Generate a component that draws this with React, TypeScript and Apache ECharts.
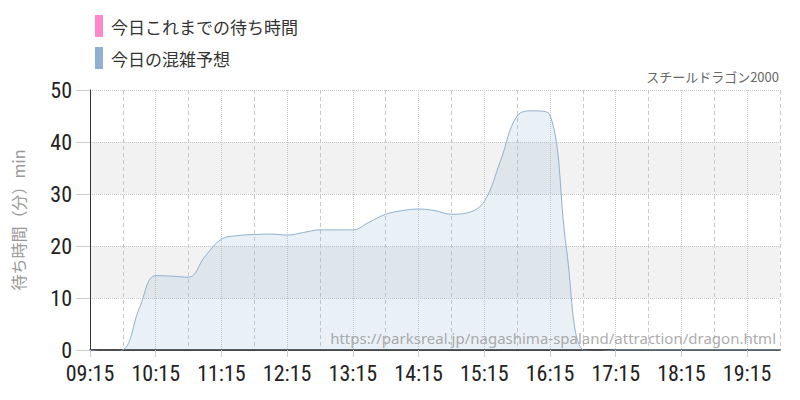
import React, { useEffect, useRef } from "react";
import * as echarts from "echarts";

const times: string[] = [
  "09:15","09:30","09:45","10:00","10:15","10:30","10:45","11:00","11:15","11:30","11:45",
  "12:00","12:15","12:30","12:45","13:00","13:15","13:30","13:45","14:00","14:15","14:30","14:45",
  "15:00","15:15","15:30","15:45","16:00","16:15","16:30","16:45","17:00","17:15","17:30","17:45",
  "18:00","18:15","18:30","18:45","19:00","19:15","19:30","19:45",
];
const forecast: number[] = [
  0, -0.4, 0, 8.0, 14.3, 14.2, 14.0, 18.0, 21.3, 22.0, 22.2,
  22.3, 22.1, 22.6, 23.1, 23.1, 23.1, 24.6, 26.1, 26.8, 27.1, 26.8, 26.1,
  26.4, 28.6, 36.5, 45.0, 46.0, 45.2, 19.5, 0, -0.3, 0, 0, 0,
  0, 0, 0, 0, 0, 0, 0, 0,
];
const actual: number[] = [];
const yTicks = { min: 0, max: 50, interval: 10 };
const seriesNames = ["今日これまでの待ち時間", "今日の混雑予想"];
const titleText = "スチールドラゴン2000";
const watermark = "https://parksreal.jp/nagashima-spaland/attraction/dragon.html";
const yName = "待ち時間（分）min";

const numFont = "'Roboto Condensed', 'Liberation Sans Narrow', 'DejaVu Sans Condensed', 'Open Sans', sans-serif";
const jpFont = "'Noto Sans CJK JP', 'Noto Sans', sans-serif";

export default function App() {
  const ref = useRef<HTMLDivElement>(null);
  useEffect(() => {
    if (!ref.current) return;
    const chart = echarts.init(ref.current, undefined, { renderer: "svg" });
    chart.setOption({
      animation: false,
      legend: {
        orient: "vertical",
        left: 95,
        top: 15,
        padding: 0,
        itemWidth: 8,
        itemHeight: 22,
        itemGap: 10,
        icon: "rect",
        selectedMode: false,
        textStyle: { fontSize: 17, color: "#333", fontFamily: jpFont, padding: [0, 0, 0, 3] },
        data: seriesNames,
      },
      grid: { left: 90, right: 20, top: 90, bottom: 50 },
      xAxis: [
        {
          type: "category",
          data: times,
          boundaryGap: false,
          axisLine: { lineStyle: { color: "#111", width: 1.5 } },
          axisTick: {
            show: true,
            length: 7,
            interval: (i: number) => i % 4 === 0,
            lineStyle: { color: "#ccc" },
          },
          axisLabel: {
            interval: (i: number) => i % 4 === 0,
            fontSize: 22,
            color: "#222",
            fontFamily: numFont,
            fontStyle: "condensed",
            margin: 12,
          },
          splitLine: {
            show: true,
            interval: (i: number) => i % 4 === 0,
            lineStyle: { color: "#c8c8c8", type: "dotted" },
          },
        },
        {
          type: "category",
          data: times,
          boundaryGap: false,
          position: "bottom",
          axisLine: { show: false },
          axisTick: { show: false },
          axisLabel: { show: false },
          splitLine: {
            show: true,
            interval: (i: number) => i % 4 === 2,
            lineStyle: { color: "#c8c8c8", type: [4, 3] },
          },
        },
      ],
      yAxis: {
        type: "value",
        min: yTicks.min,
        max: yTicks.max,
        interval: yTicks.interval,
        name: yName,
        nameLocation: "middle",
        nameGap: 64,
        nameTextStyle: { fontSize: 16, color: "#999", fontFamily: jpFont },
        axisLine: { show: true, lineStyle: { color: "#333" } },
        axisTick: { show: true, length: 14, lineStyle: { color: "#ccc" } },
        axisLabel: { fontSize: 22, color: "#222", fontFamily: numFont, fontStyle: "condensed", margin: 18 },
        splitLine: { lineStyle: { color: "#c8c8c8", type: "dotted" } },
        splitArea: { show: true, areaStyle: { color: ["rgba(0,0,0,0)", "#f2f2f2"] } },
      },
      series: [
        {
          name: seriesNames[0],
          type: "line",
          data: actual,
          color: "#ff88cc",
          symbol: "none",
        },
        {
          name: seriesNames[1],
          type: "line",
          data: forecast,
          color: "#8fb0d0",
          smooth: 0.4,
          symbol: "none",
          lineStyle: { width: 1, color: "#8fb0d0" },
          areaStyle: { color: "rgba(143,176,208,0.28)" },
          z: 3,
        },
      ],
      graphic: [
        {
          type: "text",
          right: 21,
          top: 70,
          z: 10,
          style: { text: titleText, fontSize: 13, fill: "#666", fontFamily: jpFont },
        },
        {
          type: "text",
          right: 24,
          top: 330,
          z: 10,
          style: { text: watermark, fontSize: 15, fill: "rgba(150,150,150,0.8)", fontFamily: "'Noto Sans', sans-serif" },
        },
      ],
    });
    return () => chart.dispose();
  }, []);
  return <div ref={ref} style={{ width: 800, height: 400, position: "absolute", left: 0, top: 0 }} />;
}
